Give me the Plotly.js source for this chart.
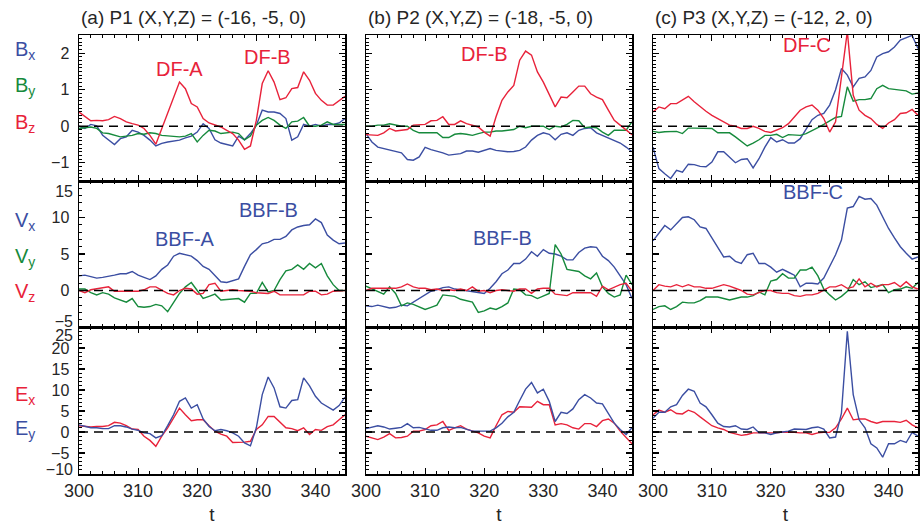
<!DOCTYPE html>
<html>
<head>
<meta charset="utf-8">
<script src="https://cdn.plot.ly/plotly-3.0.1.min.js"></script>
<style>html,body{margin:0;padding:0;background:#fff}</style>
</head>
<body>
<div id="chart" style="width:920px;height:525px"></div>
<script>
// ---------------- data ----------------
const T = [300,301,302,303,304,305,306,307,308,309,310,311,312,313,314,315,316,317,318,319,320,321,322,323,324,325,326,327,328,329,330,331,332,333,334,335,336,337,338,339,340,341,342,343,344,345];

// P1
const P1_BX = [0.0,-0.06,0.05,0.01,-0.25,-0.38,-0.5,-0.34,-0.29,-0.11,-0.16,-0.25,-0.38,-0.54,-0.47,-0.43,-0.4,-0.38,-0.32,-0.27,-0.16,0.07,-0.06,-0.37,-0.46,-0.49,-0.54,-0.27,-0.37,-0.2,0.03,0.44,0.39,0.39,0.35,0.21,-0.38,-0.29,0.05,0,0.05,0,0.05,0.05,0.09,0.21];
const P1_BY = [-0.06,-0.04,-0.02,-0.06,-0.18,-0.2,-0.25,-0.29,-0.27,-0.25,-0.2,-0.22,-0.18,-0.2,-0.25,-0.27,-0.29,-0.29,-0.27,-0.2,-0.43,-0.25,-0.11,-0.13,-0.2,-0.18,-0.16,-0.2,-0.37,-0.27,0.03,0.16,0.24,0.16,0.03,-0.06,0.12,0.14,0.24,0,0,0.03,0.12,0.05,0.05,0.05];
const P1_BZ = [0.39,0.26,0.15,0.16,0.15,0.18,0.27,0.21,0.12,0.07,0.03,-0.06,-0.25,-0.49,-0.06,0.4,0.8,1.21,1.03,0.62,0.53,0.21,0.09,0.03,-0.02,-0.11,-0.2,-0.38,-0.63,-0.54,0.16,1.17,1.52,1.21,0.73,0.78,1.03,1.06,1.49,1.26,0.9,0.71,0.58,0.58,0.71,0.82];
const P1_VX = [2.0,2.1,1.9,1.7,1.8,1.9,2.1,2.3,2.3,2.6,2.1,1.8,1.5,2.0,2.9,3.5,4.7,5.1,4.9,4.7,4.1,3.3,2.9,2.1,1.2,1.1,1.4,1.6,3.3,4.9,5.6,6.4,6.6,7.0,7.0,7.4,8.3,8.7,8.9,9.0,9.8,9.3,7.6,6.9,6.4,6.5];
const P1_VY = [0.2,0.2,-0.3,-0.6,-0.3,-0.5,-1.0,-1.3,-1.6,-1.1,-2.2,-2.3,-2.2,-1.9,-2.1,-2.9,-1.6,-0.4,0.5,1.1,0,-1.1,-0.8,-0.5,-1.3,-1.2,-1.2,-1.1,-1.6,-0.4,-0.4,1.1,-0.2,0,1.5,2.7,2.9,3.5,2.9,3.7,3.1,3.7,2.0,0.8,0,0];
const P1_VZ = [0,-0.3,0.1,0.2,0.3,0.5,-0.1,-0.1,0,-0.1,-0.1,0.1,0.5,0.5,0,-0.4,-0.6,0,0.3,0.2,-0.5,-0.4,0.8,1.0,-0.1,0,0.1,0,0,-0.1,-0.3,-0.4,-0.4,-0.1,-0.6,-0.6,-0.6,-0.6,-0.6,-0.1,-0.1,-0.6,-0.5,-0.1,0,0];
const P1_EX = [1.5,1.3,1.2,1.3,1.3,1.5,2.3,2.1,1.5,0.7,0.6,-1.0,-2.0,-3.4,-1.0,1.0,3.3,5.7,4.1,2.7,2.9,2.9,1.5,0.2,-0.5,-1.0,-2.5,-2.5,-2.4,-2.2,0.6,1.7,3.7,3.7,2.3,1.0,0.8,0.3,1.0,-0.6,0.6,0.4,1.3,1.7,2.9,4.1];
const P1_EY = [1.7,1.3,1.0,1.0,0.8,0.8,1.5,1.5,1.2,0.7,0.4,-0.2,-0.4,-1.4,-0.9,1.5,4.1,7.3,8.1,5.7,6.5,3.1,1.3,0.3,0.6,0.3,-0.2,-1.0,-2.6,-3.3,1.0,8.9,13.1,10.5,6.0,5.7,7.5,7.7,12.9,11.0,8.5,6.9,6.0,5.2,6.3,8.3];

// P2
const P2_BX = [-0.2,-0.43,-0.57,-0.61,-0.64,-0.68,-0.73,-0.91,-0.93,-0.84,-0.58,-0.64,-0.68,-0.73,-0.79,-0.76,-0.75,-0.68,-0.68,-0.71,-0.66,-0.61,-0.66,-0.68,-0.7,-0.69,-0.66,-0.57,-0.38,-0.25,-0.18,-0.22,-0.37,-0.22,-0.18,-0.25,-0.11,-0.06,-0.04,-0.18,-0.25,-0.31,-0.4,-0.46,-0.57,-0.7];
const P2_BY = [0,0,0.03,0.03,0.07,0.03,0,0,-0.11,-0.18,-0.18,-0.18,-0.18,-0.31,-0.31,-0.22,-0.2,-0.22,-0.25,-0.2,-0.16,-0.16,-0.13,-0.13,-0.11,-0.09,0,-0.04,0,0,0,-0.09,0,-0.02,0.05,0.16,0.15,-0.04,-0.02,-0.04,-0.16,-0.25,-0.11,-0.11,-0.11,0.12];
const P2_BZ = [-0.23,-0.25,-0.25,-0.18,-0.06,-0.13,-0.11,-0.09,0.03,0.03,0.05,0.15,0.16,0.26,0.05,0.05,0.15,0.07,0.03,-0.02,-0.16,-0.27,0.26,0.71,0.94,1.12,1.81,2.06,1.95,1.49,1.21,0.89,0.53,0.8,0.78,0.94,1.1,1.1,0.89,0.8,0.73,0.44,0.16,0.03,-0.11,-0.23];
const P2_VX = [-2.1,-2.2,-2.0,-2.2,-2.4,-2.3,-2.0,-2.1,-1.6,-1.1,-0.6,-0.1,0.1,0.4,0.5,0.2,0.1,0,-0.1,-0.3,-0.4,0.3,1.2,2.3,2.8,3.7,3.7,4.3,5.3,4.7,5.6,5.1,5.0,4.7,4.2,4.2,5.2,5.8,6.0,5.9,4.7,4.1,3.2,2.0,0.8,-1.1];
const P2_VY = [0.6,0.2,-0.1,-0.5,0.5,-0.4,-2.1,-1.7,-1.9,-2.2,-2.6,-2.3,-2.0,-0.6,-0.7,-0.8,-1.2,-1.4,-1.6,-3.0,-2.8,-2.4,-2.6,-2.2,-1.7,0.2,0.1,-0.6,-0.7,-1.1,-0.8,-0.4,6.3,5.0,2.9,2.7,2.6,2.0,1.6,2.4,0.5,-0.4,-0.9,-0.6,2.1,0.8];
const P2_VZ = [0,0.3,0.3,0.3,0.3,0.3,0.5,0.9,0.5,0.3,0.3,0.1,0.2,0,0.1,0,0.2,0,0.5,-0.1,0,-0.3,0,0.1,0,-0.1,0.2,0.2,-0.4,0.2,0.3,0.3,-0.5,-0.6,-0.7,-0.3,-0.3,-0.3,-0.3,-0.8,0.6,0.1,0.5,0.8,1.0,-0.1];
const P2_EX = [-1.0,-1.4,-1.8,-1.2,-0.4,-1.4,-1.3,-1.0,0.2,0.2,0.6,1.5,1.7,2.5,0.4,1.0,1.5,0.7,0.2,-0.2,-1.0,-1.4,1.5,4.1,4.9,4.7,6.0,6.0,5.9,7.3,6.5,6.5,1.7,2.0,1.7,1.0,0.7,2.0,2.0,1.3,2.7,3.1,2.1,0.2,-1.4,-2.8];
const P2_EY = [0.8,1.2,1.5,1.2,0.7,0.9,1.1,2.0,1.0,1.1,0.7,0.4,0.4,1.0,1.2,1.0,1.1,0.6,0.2,0.2,0.2,0.2,1.0,2.1,3.6,4.7,7.5,10.2,11.8,9.3,10.2,7.3,2.5,4.7,4.4,5.5,7.7,8.9,8.1,6.9,6.7,4.5,2.1,0.6,-0.6,1.0];

// P3
const P3_BX = [-0.57,-1.16,-1.3,-1.43,-1.21,-1.26,-1.04,-1.05,-1.1,-1.11,-0.98,-0.7,-0.7,-0.84,-1.0,-0.91,-0.89,-1.14,-0.89,-0.57,-0.31,-0.43,-0.37,-0.46,-0.46,-0.34,-0.06,0.18,0.3,0.35,0.58,1.0,1.58,1.4,1.08,1.31,1.35,1.53,1.9,1.99,2.04,2.17,2.36,2.43,2.49,2.13];
const P3_BY = [-0.14,-0.17,-0.15,-0.14,-0.14,-0.2,-0.05,-0.05,-0.05,-0.05,-0.06,-0.18,-0.18,-0.18,-0.29,-0.41,-0.54,-0.46,-0.37,-0.25,-0.25,-0.22,-0.31,-0.23,-0.25,-0.25,-0.2,-0.13,-0.04,0.05,0.15,0.24,0.27,1.08,0.69,0.73,0.73,0.76,1.03,1.12,1.03,1.0,0.99,0.97,0.88,0.91];
const P3_BZ = [0.39,0.53,0.48,0.62,0.62,0.71,0.82,0.67,0.53,0.41,0.3,0.21,0.12,0.03,0,-0.06,-0.06,0,-0.06,-0.14,-0.17,-0.11,-0.04,0.07,0.26,0.44,0.53,0.58,0.44,0.21,-0.16,0.12,1.35,2.6,0.85,0.44,0.3,0.21,0.05,-0.06,0.09,0.18,0.35,0.37,0.46,0.3];
const P3_VX = [6.8,7.9,8.9,8.3,9.2,10.0,10.1,9.7,8.7,8.5,7.2,5.8,4.6,4.7,4.0,3.7,4.9,5.1,3.7,3.7,3.2,2.5,2.9,2.5,2.1,0.5,1.0,1.0,0.9,1.7,3.3,4.9,6.9,11.3,11.5,12.9,12.5,12.6,11.7,10.1,8.5,7.2,6.0,5.1,4.3,4.6];
const P3_VY = [-2.6,-2.2,-2.1,-2.6,-2.2,-1.6,-1.7,-1.7,-1.4,-0.9,-0.9,-0.9,-1.1,-1.3,-1.1,-0.9,-0.9,-0.7,-0.2,-0.6,1.3,1.5,2.3,1.7,1.7,2.8,2.8,3.2,2.0,0.2,-0.6,-1.3,-0.8,-0.1,1.5,0.8,1.2,0.4,0.6,0.8,-0.3,0.1,0.2,0.5,0.3,1.1];
const P3_VZ = [0,0.8,0.6,0.5,0.8,0.5,0.8,0.5,0.5,0.3,0.3,0.5,0.8,0.6,0.3,0,-0.5,-0.6,-0.3,0,0,-0.3,-0.4,-0.4,-0.7,-0.8,-0.6,-0.6,-0.4,0,0.5,0.5,0.8,0.3,0.5,1.6,0.5,1.0,0.5,0.8,0.8,1.1,0.5,1.2,0.5,0.2];
const P3_EX = [4.1,5.2,4.7,5.3,4.4,4.3,5.2,4.7,3.6,2.5,1.5,1.0,0.6,-0.1,-0.4,-0.8,-0.6,-0.2,-0.2,-0.2,-0.2,-0.2,0,0,-0.1,-0.2,-0.2,-0.6,-0.2,-0.1,-0.1,1.0,3.1,5.7,2.9,3.1,3.1,2.5,2.1,2.5,2.5,2.5,2.3,2.8,1.7,1.0];
const P3_EY = [3.3,4.7,4.7,6.0,6.5,8.7,10.2,9.7,6.9,6.0,4.1,2.1,1.3,1.2,1.5,0.7,0.6,1.2,-0.2,-0.2,-0.6,-0.2,0,0.2,0.7,0.6,0.6,1.0,1.2,0.7,-1.4,-1.2,4.5,24.0,8.9,2.9,1.0,-2.8,-3.8,-6.0,-2.8,-2.8,-2.0,-2.5,-0.1,-1.0];

const TITLES = ['(a) P1 (X,Y,Z) = (-16, -5, 0)', '(b) P2 (X,Y,Z) = (-18, -5, 0)', '(c) P3 (X,Y,Z) = (-12, 2, 0)'];
const X_TITLE = 't';

// ---------------- styles ----------------
const BLUE = '#3b4ea2', GREEN = '#168a3c', RED = '#e8223a';
const FONT = 'Liberation Sans, Arial, Helvetica, sans-serif';
const TXT = '#262626';

const W = 920, H = 525;
const colPx = [[79,345],[366,632],[653,918]];
const rowPx = [[35,181],[181,327],[327,474]];
const xd = c => [colPx[c][0]/W, colPx[c][1]/W];
const yd = r => [1 - rowPx[r][1]/H, 1 - rowPx[r][0]/H];

const rowCfg = [
  {range:[-1.5,2.5], vals:[-1,0,1,2], minor:0.1},
  {range:[-5,15],    vals:[0,5,10],   minor:1},
  {range:[-10,25],   vals:[-5,0,5,10,15,20], minor:1}
];

// series per panel (panel index 1..9, row-major)
const panels = [
  [[P1_BX,BLUE],[P1_BY,GREEN],[P1_BZ,RED]],
  [[P2_BX,BLUE],[P2_BY,GREEN],[P2_BZ,RED]],
  [[P3_BX,BLUE],[P3_BY,GREEN],[P3_BZ,RED]],
  [[P1_VX,BLUE],[P1_VY,GREEN],[P1_VZ,RED]],
  [[P2_VX,BLUE],[P2_VY,GREEN],[P2_VZ,RED]],
  [[P3_VX,BLUE],[P3_VY,GREEN],[P3_VZ,RED]],
  [[P1_EX,RED],[P1_EY,BLUE]],
  [[P2_EX,RED],[P2_EY,BLUE]],
  [[P3_EX,RED],[P3_EY,BLUE]]
];

const traces = [];
const layout = {
  width: W, height: H,
  margin: {l:0, r:0, t:0, b:0},
  paper_bgcolor: '#fff', plot_bgcolor: '#fff',
  showlegend: false,
  font: {family: FONT, color: TXT, size: 18},
  shapes: [], annotations: []
};

const YFONT = {size: 16, color: TXT, family: FONT};

panels.forEach((series, i) => {
  const p = i + 1, r = Math.floor(i/3), c = i % 3;
  series.forEach(([ys, col]) => {
    traces.push({x: T, y: ys, type: 'scatter', mode: 'lines',
      line: {color: col, width: 1.4}, xaxis: 'x'+p, yaxis: 'y'+p, hoverinfo: 'skip'});
  });
  const xa = {
    domain: xd(c), anchor: 'y'+p, range: [300,345],
    tickmode: 'linear', tick0: 300, dtick: 10,
    ticks: 'inside', ticklen: 6, tickwidth: 1.2, tickcolor: '#000',
    minor: {ticks: 'inside', ticklen: 3, tickwidth: 1, tickcolor: '#000', tickmode: 'linear', tick0: 300, dtick: 2, showgrid: false},
    showline: true, linecolor: '#000', linewidth: 1.5, mirror: 'ticks',
    showgrid: false, zeroline: false, showticklabels: r === 2,
    tickfont: {size: 18, color: TXT, family: FONT},
    fixedrange: true
  };
  if (r === 2) xa.title = {text: X_TITLE, font: {size: 19, color: TXT, family: FONT}, standoff: 10};
  layout['xaxis'+(p===1?'':p)] = xa;
  const rc = rowCfg[r];
  layout['yaxis'+(p===1?'':p)] = {
    domain: yd(r), anchor: 'x'+p, range: rc.range,
    tickmode: 'array', tickvals: rc.vals,
    ticks: 'inside', ticklen: 6, tickwidth: 1.2, tickcolor: '#000',
    minor: {ticks: 'inside', ticklen: 3, tickwidth: 1, tickcolor: '#000', tickmode: 'linear', tick0: 0, dtick: rc.minor, showgrid: false},
    showline: true, linecolor: '#000', linewidth: 1.5, mirror: 'ticks',
    showgrid: false, zeroline: false, showticklabels: c === 0,
    tickfont: YFONT, ticklabelstandoff: 5,
    fixedrange: true
  };
  layout.shapes.push({type: 'line', xref: 'x'+p, yref: 'y'+p, x0: 300, x1: 345, y0: 0, y1: 0,
    line: {color: '#000', width: 1.5, dash: '9px,6px'}, layer: 'above'});
});

// label-only axes for the end labels of rows 2 and 3, nudged inside their panel
// (ticklabelshift: positive = downward on the page for these y axes)
const extra = [
  {id: 10, over: 4, r: 1, val: 15,  shift: 10},
  {id: 11, over: 4, r: 1, val: -5,  shift: -6},
  {id: 12, over: 7, r: 2, val: 25,  shift: 8},
  {id: 13, over: 7, r: 2, val: -10, shift: -5}
];
extra.forEach(e => {
  layout['yaxis'+e.id] = {
    overlaying: 'y'+e.over, anchor: 'x'+e.over, side: 'left', range: rowCfg[e.r].range,
    tickmode: 'array', tickvals: [e.val], ticks: '', showline: false, showgrid: false, zeroline: false,
    ticklabelshift: e.shift, tickfont: YFONT, ticklabelstandoff: 5, fixedrange: true
  };
  traces.push({x: [], y: [], type: 'scatter', mode: 'lines', xaxis: 'x'+e.over, yaxis: 'y'+e.id, hoverinfo: 'skip'});
});

// column titles
TITLES.forEach((t, c) => {
  layout.annotations.push({text: t, xref: 'paper', yref: 'paper', x: colPx[c][0]/W, y: 1 - 17/H,
    xanchor: 'left', yanchor: 'middle', showarrow: false, font: {size: 19, color: TXT, family: FONT}});
});

// quantity labels at the left
const LEFT_LABELS = [
  ['B<sub>x</sub>', BLUE, 50], ['B<sub>y</sub>', GREEN, 86], ['B<sub>z</sub>', RED, 123],
  ['V<sub>x</sub>', BLUE, 222], ['V<sub>y</sub>', GREEN, 257], ['V<sub>z</sub>', RED, 292],
  ['E<sub>x</sub>', RED, 395], ['E<sub>y</sub>', BLUE, 429]
];
LEFT_LABELS.forEach(([txt, col, ypx]) => {
  layout.annotations.push({text: txt, xref: 'paper', yref: 'paper', x: 13/W, y: 1 - ypx/H,
    xanchor: 'left', yanchor: 'middle', showarrow: false, font: {size: 20, color: col, family: FONT}});
});

// event labels (data coordinates)
const EVENT_LABELS = [
  ['DF-A', RED, 1, 317.0, 1.58],
  ['DF-B', RED, 1, 331.9, 1.89],
  ['DF-B', RED, 2, 320.0, 1.97],
  ['DF-C', RED, 3, 326.1, 2.22],
  ['BBF-A', BLUE, 4, 318.0, 7.0],
  ['BBF-B', BLUE, 4, 332.1, 11.05],
  ['BBF-B', BLUE, 5, 323.1, 7.15],
  ['BBF-C', BLUE, 6, 327.2, 13.5]
];
EVENT_LABELS.forEach(([txt, col, p, tx, v]) => {
  layout.annotations.push({text: txt, xref: 'x'+p, yref: 'y'+p, x: tx, y: v,
    xanchor: 'center', yanchor: 'middle', showarrow: false, font: {size: 20, color: col, family: FONT}});
});

Plotly.newPlot('chart', traces, layout, {staticPlot: true, displayModeBar: false});
</script>
</body>
</html>
